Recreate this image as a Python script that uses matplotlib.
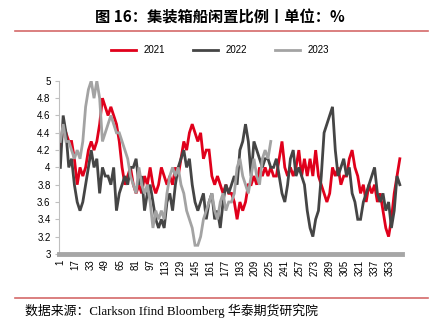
import numpy as np
import matplotlib
matplotlib.use("Agg")
import matplotlib.pyplot as plt
from matplotlib.lines import Line2D

plt.rcParams['font.family'] = ['Noto Sans CJK SC', 'DejaVu Sans']

# days sampled every 3 days (1, 4, 7, ...)
days = np.arange(1, 366, 3)

y2021 = [4.2, 4.5, 4.4, 4.3, 4.3, 4.1, 3.8, 4.0, 3.9, 4.0,
         4.2, 4.3, 4.2, 4.3, 4.5, 4.8, 4.7, 4.6, 4.7, 4.6,
         4.5, 4.3, 4.0, 3.8, 3.9, 4.0, 3.8, 3.7, 3.8, 3.7,
         3.9, 3.8, 4.0, 3.8, 3.7, 3.8, 4.0, 3.9, 3.8, 3.9,
         3.8, 4.0, 3.9, 4.1, 4.3, 4.2, 4.4, 4.5, 4.4, 4.3,
         4.4, 4.1, 4.2, 4.2, 3.9, 3.8, 3.9, 3.8, 3.7, 3.8,
         3.7, 3.7, 3.6, 3.4, 3.6, 3.5, 3.6, 3.8, 3.8, 3.9,
         3.8, 4.0, 3.9, 4.0, 3.9, 4.0, 3.9, 3.9, 4.1, 4.3,
         4.0, 3.9, 4.0, 3.9, 4.0, 4.2, 3.9, 4.1, 3.9, 4.1,
         3.9, 4.2, 3.9, 3.8, 3.7, 3.6, 3.7, 4.0, 3.9, 4.0,
         3.8, 3.9, 3.9, 4.1, 4.2, 4.0, 3.9, 3.7, 3.8, 3.6,
         3.8, 3.7, 3.8, 3.6, 3.7, 3.5, 3.3, 3.2, 3.4, 3.7,
         3.9, 4.1]

y2022 = [4.0, 4.6, 4.4, 4.0, 4.1, 3.8, 3.6, 3.5, 3.6, 3.8,
         4.0, 4.2, 4.0, 4.1, 3.7, 4.0, 3.9, 3.9, 3.8, 4.0,
         3.5, 3.7, 3.8, 3.9, 3.8, 4.0, 4.0, 4.1, 3.8, 3.9,
         3.5, 3.7, 3.8, 3.6, 3.4, 3.3, 3.4, 3.3, 3.6, 3.7,
         3.5, 3.8, 4.0, 4.1, 4.2, 4.0, 4.1, 3.8, 3.6, 3.5,
         3.6, 3.7, 3.4, 3.6, 3.7, 3.4, 3.5, 3.3, 3.6, 3.8,
         3.7, 3.8, 3.9, 3.8, 4.2, 4.3, 4.5, 4.3, 3.9, 4.3,
         4.2, 4.1, 4.0, 4.1, 4.1, 4.0, 4.0, 4.1, 3.9, 3.7,
         3.6, 3.8, 4.1, 4.2, 3.9, 4.0, 3.9, 3.8, 3.5, 3.3,
         3.2, 3.4, 3.5, 3.9, 4.4, 4.5, 4.6, 4.7, 4.2, 3.9,
         4.0, 4.1, 3.9, 4.0, 3.7, 3.6, 3.4, 3.4, 3.6, 3.7,
         3.8, 3.9, 4.0, 3.7, 3.6, 3.7, 3.5, 3.6, 3.3, 3.5,
         3.9, 3.8]

# 2023 only runs to late August
y2023 = [4.3, 4.5, 4.3, 4.3, 4.2, 4.1, 4.2, 4.1, 4.3, 4.7,
         4.9, 5.0, 4.8, 5.0, 4.8, 4.3, 4.4, 4.5, 4.6, 4.5,
         4.4, 4.4, 4.3, 4.2, 4.1, 3.9, 3.8, 3.7, 4.0, 3.8,
         3.7, 3.8, 3.6, 3.3, 3.5, 3.4, 3.5, 3.4, 3.7, 3.9,
         4.0, 3.9, 4.0, 3.8, 3.7, 3.5, 3.4, 3.3, 3.1, 3.1,
         3.2, 3.4, 3.5, 3.6, 3.7, 3.5, 3.4, 3.6, 3.7, 3.5,
         3.6, 3.6, 3.7, 4.0, 4.1, 3.9, 3.8, 3.7, 3.9, 4.1,
         3.9, 3.8, 4.1, 4.2, 4.1, 4.3]

series = [("2021", y2021, "#e0001b"),
          ("2022", y2022, "#454545"),
          ("2023", y2023, "#a3a3a3")]

xticks = list(range(1, 366, 16))
yticks = [3, 3.2, 3.4, 3.6, 3.8, 4, 4.2, 4.4, 4.6, 4.8, 5]

fig = plt.figure(figsize=(4.4, 3.21), dpi=100)
ax = fig.add_axes([0.134, 0.209, 0.780, 0.539])

for name, vals, col in series:
    ax.plot(days[:len(vals)], vals, color=col, lw=2.0, label=name,
            solid_joinstyle="miter")

ax.set_xlim(-0.5, 366.5)
ax.set_ylim(3, 5)
ax.set_xticks(xticks)
ax.set_xticklabels([str(t) for t in xticks], rotation=90, fontsize=7,
                   family=['Liberation Sans', 'DejaVu Sans'])
ax.set_yticks(yticks)
ax.set_yticklabels(["%g" % t for t in yticks], fontsize=7,
                   family=['Liberation Sans', 'DejaVu Sans'])
ax.tick_params(axis="x", length=0, pad=4)
ax.tick_params(axis="y", length=3, color="#bfbfbf", pad=3)

for s in ["top", "right"]:
    ax.spines[s].set_visible(False)
ax.spines["left"].set_color("#bfbfbf")
ax.spines["left"].set_linewidth(0.8)
ax.spines["bottom"].set_color("#a6a6a6")
ax.spines["bottom"].set_linewidth(3.5)

# legend on top
handles = [Line2D([], [], color=c, lw=2.0) for _, _, c in series]
fig.legend(handles, [s[0] for s in series], loc="center",
           bbox_to_anchor=(0.5, 0.844), ncol=3, frameon=False,
           handlelength=2.6, columnspacing=2.8,
           prop={'family': ['Liberation Sans', 'DejaVu Sans'], 'size': 7})

# title and rules
fig.text(0.5, 0.945, "图 16：集装箱船闲置比例丨单位：%", ha="center",
         va="center", fontsize=11, fontweight="bold")
fig.add_artist(Line2D([15 / 440, 428 / 440], [1 - 31 / 321, 1 - 31 / 321],
                      color="#d46a6a", lw=1.2))
fig.add_artist(Line2D([15 / 440, 428 / 440], [1 - 298 / 321, 1 - 298 / 321],
                      color="#d46a6a", lw=1.2))
fig.text(25 / 440, 1 - 311 / 321,
         "数据来源：Clarkson Ifind Bloomberg 华泰期货研究院",
         ha="left", va="center", fontsize=9.3,
         family=['Liberation Serif', 'Noto Sans CJK SC'])

fig.savefig("out.png", dpi=100)
